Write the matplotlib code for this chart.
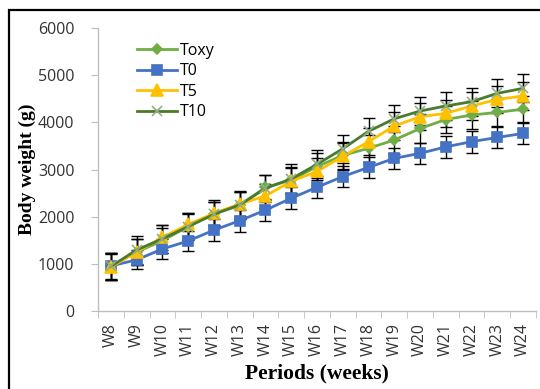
import numpy as np
import matplotlib
matplotlib.use("Agg")
import matplotlib.pyplot as plt
from matplotlib.patches import Rectangle
from matplotlib.ticker import FixedLocator

weeks = ["W8", "W9", "W10", "W11", "W12", "W13", "W14", "W15", "W16",
         "W17", "W18", "W19", "W20", "W21", "W22", "W23", "W24"]

# mean body weight (g)
toxy = [945, 1250, 1490, 1790, 2060, 2240, 2620, 2780, 3060,
        3300, 3450, 3625, 3870, 4060, 4155, 4210, 4280]
t0 = [955, 1085, 1315, 1485, 1715, 1915, 2140, 2390, 2625,
      2850, 3045, 3236, 3343, 3480, 3590, 3680, 3765]
t5 = [930, 1255, 1560, 1835, 2070, 2268, 2440, 2750, 2960,
      3280, 3590, 3922, 4119, 4190, 4346, 4487, 4558]
t10 = [945, 1295, 1530, 1790, 2050, 2250, 2600, 2800, 3110,
       3440, 3810, 4075, 4240, 4346, 4438, 4615, 4721]

# standard deviations
toxy_err = [280, 270, 260, 260, 260, 280, 270, 280, 290, 290, 290, 300, 300, 290, 290, 290, 280]
t0_err = [270, 200, 220, 220, 230, 230, 230, 230, 230, 230, 220, 220, 220, 230, 230, 230, 230]
t5_err = [280, 270, 260, 250, 250, 260, 260, 280, 280, 280, 280, 290, 290, 290, 290, 290, 290]
t10_err = [290, 300, 300, 290, 300, 300, 290, 310, 300, 300, 290, 290, 300, 300, 300, 300, 300]

series = [
    ("Toxy", toxy, toxy_err, "#70AD47", "D", "#70AD47", 5),
    ("T0", t0, t0_err, "#4472C4", "s", "#4472C4", 7),
    ("T5", t5, t5_err, "#FFC000", "^", "#FFC000", 8),
    ("T10", t10, t10_err, "#4A7A2C", "x", "#93AE84", 7),
]

fig = plt.figure(figsize=(5.4, 3.89), dpi=100)
ax = fig.add_axes([98 / 540, 1 - 311 / 389, 438 / 540, 283 / 389])

x = np.arange(len(weeks))
for name, vals, err, col, mk, mcol, ms in series:
    ax.errorbar(x, vals, yerr=err, fmt="none", ecolor="black",
                elinewidth=1, capsize=4, capthick=1, zorder=2)
for name, vals, err, col, mk, mcol, ms in series:
    ax.plot(x, vals, color=col, lw=2, marker=mk, markersize=ms,
            markerfacecolor=mcol, markeredgecolor=mcol, mew=1.2,
            label=name, zorder=3)

ax.set_xlim(-0.5, len(weeks) - 0.5)
ax.set_ylim(0, 6000)
ax.set_yticks(np.arange(0, 6001, 1000))
ax.set_xticks(x)
ax.set_xticklabels(weeks, rotation=90, fontsize=11.5, family="Open Sans")
ax.xaxis.set_minor_locator(FixedLocator(np.arange(-0.5, len(weeks), 1)))
ax.tick_params(axis="x", which="major", length=0, pad=9)
ax.tick_params(axis="x", which="minor", length=5, color="#bfbfbf", direction="out")
ax.tick_params(axis="y", length=5, color="#bfbfbf", pad=12, labelsize=11.5)
for lbl in ax.get_yticklabels():
    lbl.set_family("Open Sans")
    lbl.set_color("#333333")
for lbl in ax.get_xticklabels():
    lbl.set_color("#333333")

for s in ["top", "right"]:
    ax.spines[s].set_visible(False)
for s in ["left", "bottom"]:
    ax.spines[s].set_color("#bfbfbf")
    ax.spines[s].set_linewidth(1)

ax.set_xlabel("Periods (weeks)", family="Liberation Serif", fontweight="bold",
              fontsize=15.5, labelpad=5)
ax.set_ylabel("Body weight (g)", family="Liberation Serif", fontweight="bold",
              fontsize=14, labelpad=1)

leg = ax.legend(loc="upper left", bbox_to_anchor=(0.075, 0.97), frameon=False,
                prop={"family": "Open Sans", "size": 11.5}, handlelength=2.5,
                handletextpad=0.15, labelspacing=0.28, borderaxespad=0)

fig.add_artist(Rectangle((9 / 540, -0.05), 1.2, 1 - 10 / 389 + 0.05,
                         transform=fig.transFigure, fill=False,
                         edgecolor="black", lw=1.6))

fig.savefig("out.png", dpi=100)
